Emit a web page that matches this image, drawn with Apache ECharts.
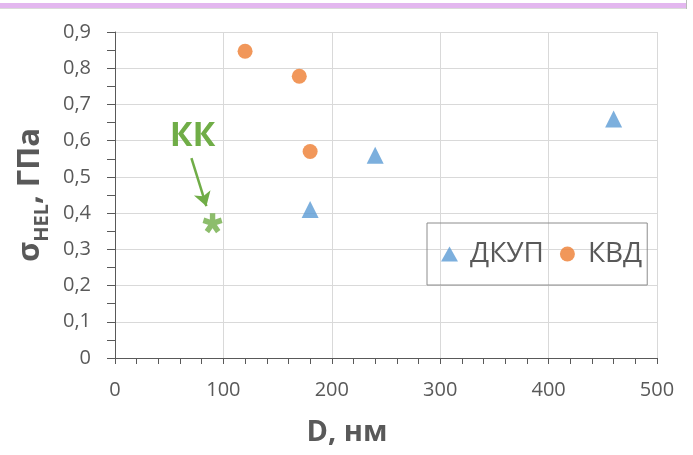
<!DOCTYPE html>
<html><head><meta charset="utf-8">
<script src="https://cdn.jsdelivr.net/npm/echarts@6/dist/echarts.min.js"></script>
<style>html,body{margin:0;padding:0;background:#fff}#c{width:693px;height:455px}</style>
</head><body><div id="c"></div>
<script>
// Data
var seriesNames = ['ДКУП', 'КВД'];
var dkupX = [180, 240, 460];
var dkupY = [0.41, 0.56, 0.66];
var kvdX = [120, 170, 180];
var kvdY = [0.847, 0.778, 0.57];
var kkX = [90];
var kkY = [0.372];
var kkLabel = 'КК';
var kkArrowFrom = [70.5, 0.552];
var kkArrowTo = [84.3, 0.419];
var kkLabelAt = [71.5, 0.612];
var xTitle = 'D, нм';
var yTitleMain = 'σ', yTitleSub = 'HEL', yTitleRest = ', ГПа';

function zip(xs, ys) { return xs.map(function (x, i) { return [x, ys[i]]; }); }

var FONT = '"Open Sans", sans-serif';
var GREEN = '#70AD47', BLUE = '#5B9BD5', ORANGE = '#ED7D31', TXT = '#595959';
var asterisk = 'path://M64,50L64,0L36,0L36,50Z M54.33,63.31L101.88,47.86L93.22,21.24L45.67,36.69Z M38.67,58.23L68.06,98.68L90.72,82.22L61.33,41.77Z M38.67,41.77L9.28,82.22L31.94,98.68L61.33,58.23Z M54.33,36.69L6.78,21.24L-1.88,47.86L45.67,63.31Z';

var chart = echarts.init(document.getElementById('c'));
chart.setOption({
  animation: false,
  textStyle: { fontFamily: FONT },
  graphic: [
    { type: 'rect', shape: { x: 0, y: 3, width: 686, height: 5 }, style: { fill: '#E3B7EF' } },
    { type: 'line', shape: { x1: 0, y1: 8.5, x2: 686, y2: 8.5 }, style: { stroke: '#DADADA', lineWidth: 1 } },
    { type: 'line', shape: { x1: 686.5, y1: 0, x2: 686.5, y2: 9 }, style: { stroke: '#BBBBBB', lineWidth: 1 } }
  ],
  grid: { left: 115, right: 36, top: 32, bottom: 97 },
  legend: {
    left: 427, top: 223,
    padding: [17, 5, 17, 14],
    borderColor: '#8C8C8C', borderWidth: 1,
    itemWidth: 17, itemHeight: 15, itemGap: 16,
    textStyle: { fontSize: 28, color: TXT, fontFamily: FONT, padding: [0, 0, 0, 7] },
    data: [{ name: seriesNames[0], icon: 'triangle' }, { name: seriesNames[1], icon: 'circle' }]
  },
  xAxis: {
    type: 'value', min: 0, max: 500, interval: 100,
    name: xTitle, nameLocation: 'middle', nameGap: 60,
    nameTextStyle: { fontSize: 29, fontWeight: 'bold', color: TXT, padding: [0, 78, 0, 0] },
    axisLine: { show: true, onZero: false, lineStyle: { color: '#595959', width: 1 } },
    axisTick: { show: true, length: 6, lineStyle: { color: '#595959' } },
    minorTick: { show: true, splitNumber: 5, length: 6, lineStyle: { color: '#595959' } },
    axisLabel: { fontSize: 20, color: TXT, margin: 22 },
    splitLine: { show: true, lineStyle: { color: '#D9D9D9', width: 1 } }
  },
  yAxis: {
    type: 'value', min: 0, max: 0.9, interval: 0.1,
    name: '{s|' + yTitleMain + '}{sub|' + yTitleSub + '}{s|' + yTitleRest + '}',
    nameLocation: 'middle', nameGap: 68, nameRotate: 90,
    nameTextStyle: {
      color: TXT,
      rich: {
        s: { fontSize: 31, fontWeight: 'bold', color: TXT, fontFamily: FONT, lineHeight: 32, verticalAlign: 'top' },
        sub: { fontSize: 20, fontWeight: 'bold', color: TXT, fontFamily: FONT, lineHeight: 20, padding: [17, 0, 0, 0], verticalAlign: 'top' }
      }
    },
    axisLine: { show: true, lineStyle: { color: '#595959', width: 1 } },
    axisTick: { show: true, length: 8, lineStyle: { color: '#595959' } },
    minorTick: { show: true, splitNumber: 2, length: 8, lineStyle: { color: '#595959' } },
    axisLabel: { fontSize: 20, color: TXT, margin: 24, formatter: function (v) { return String(Math.round(v * 10) / 10).replace('.', ','); } },
    splitLine: { show: true, lineStyle: { color: '#D9D9D9', width: 1 } }
  },
  series: [
    { name: seriesNames[0], type: 'scatter', symbol: 'triangle', symbolSize: 17, itemStyle: { color: BLUE }, data: zip(dkupX, dkupY) },
    { name: seriesNames[1], type: 'scatter', symbol: 'circle', symbolSize: 15, itemStyle: { color: ORANGE }, data: zip(kvdX, kvdY) },
    {
      name: kkLabel, type: 'scatter', symbol: asterisk, symbolSize: 20, itemStyle: { color: GREEN },
      data: zip(kkX, kkY),
      markLine: {
        silent: true, symbol: ['none', 'arrow'], symbolSize: [13, 14],
        label: { show: false },
        lineStyle: { color: GREEN, width: 2.5, type: 'solid' },
        data: [[{ coord: kkArrowFrom }, { coord: kkArrowTo }]]
      },
      markPoint: {
        silent: true, symbol: 'circle', symbolSize: 1, itemStyle: { color: 'rgba(0,0,0,0)' },
        label: { show: true, position: 'inside', formatter: kkLabel, fontSize: 34, fontWeight: 'bold', color: GREEN, fontFamily: FONT },
        data: [{ coord: kkLabelAt }]
      }
    }
  ]
});
</script></body></html>
